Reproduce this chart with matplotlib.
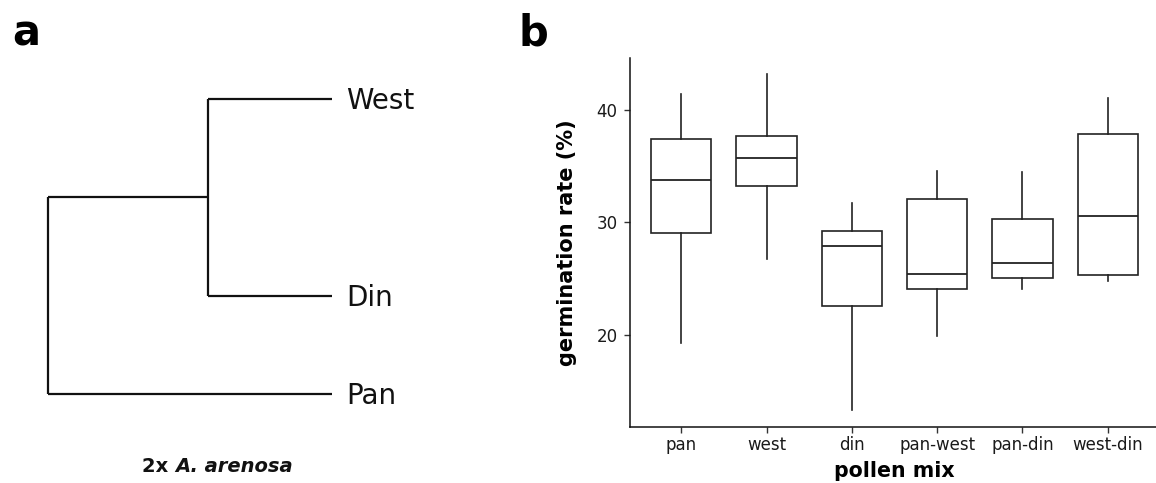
import matplotlib
matplotlib.use("Agg")
import matplotlib.pyplot as plt
from matplotlib.text import Annotation

# ---------------- data ----------------
# panel a: simple cladogram
leaves = ["West", "Din", "Pan"]
leaf_y = [3, 1, 0]            # vertical order of tips
inner_node_depth = 0.565      # depth of the (West, Din) node
root_depth = 0.0
tip_depth = 1.0

# panel b: box plot statistics
categories = ["pan", "west", "din", "pan-west", "pan-din", "west-din"]
whisker_low = [19.3, 26.8, 13.3, 19.9, 24.1, 24.8]
q1 = [29.1, 33.2, 22.6, 24.1, 25.1, 25.3]
median = [33.8, 35.7, 27.9, 25.4, 26.4, 30.6]
q3 = [37.4, 37.7, 29.2, 32.1, 30.3, 37.9]
whisker_high = [41.4, 43.2, 31.7, 34.6, 34.5, 41.1]
y_ticks = [20, 30, 40]

W, H = 1156, 483
fig = plt.figure(figsize=(W / 100, H / 100), dpi=100)
plt.rcParams["font.family"] = ["DejaVu Sans"]

def px(x0, y0, x1, y1):
    """figure-fraction rect from pixel box (top-left origin)"""
    return [x0 / W, 1 - y1 / H, (x1 - x0) / W, (y1 - y0) / H]

# ---------------- panel a ----------------
axa = fig.add_axes(px(47.7, 99, 331.7, 394.3))
axa.set_xlim(0, 1)
axa.set_ylim(0, 3)
axa.axis("off")
lw_tree = 1.6
col_tree = "#111111"
kw = dict(color=col_tree, lw=lw_tree, clip_on=False, solid_capstyle="butt")
y_w, y_d, y_p = leaf_y
inner_mid = (y_w + y_d) / 2
# inner clade
axa.plot([inner_node_depth, inner_node_depth], [y_d, y_w], **kw)
axa.plot([inner_node_depth, tip_depth], [y_w, y_w], **kw)
axa.plot([inner_node_depth, tip_depth], [y_d, y_d], **kw)
# root
axa.plot([root_depth, root_depth], [y_p, inner_mid], **kw)
axa.plot([root_depth, inner_node_depth], [inner_mid, inner_mid], **kw)
axa.plot([root_depth, tip_depth], [y_p, y_p], **kw)
for name, yy in zip(leaves, leaf_y):
    axa.annotate(name, xy=(tip_depth, yy), xytext=(10.5, -7.3),
                 textcoords="offset points", ha="left", va="baseline",
                 fontsize=20, color="#111111", annotation_clip=False)

t1 = fig.text(142 / W, 1 - 472 / H, "2x ", fontsize=14, fontweight="bold",
              ha="left", va="baseline", color="#111111")
a2 = Annotation("A. arenosa", xy=(1, 0), xycoords=t1, xytext=(0, 0),
                textcoords="offset points", ha="left", va="bottom",
                fontsize=14, fontweight="bold", fontstyle="italic",
                color="#111111")
fig.add_artist(a2)

fig.text(12 / W, 1 - 45 / H, "a", fontsize=30, fontweight="bold",
         ha="left", va="baseline")
fig.text(519 / W, 1 - 45 / H, "b", fontsize=30, fontweight="bold",
         ha="left", va="baseline")

# ---------------- panel b ----------------
axb = fig.add_axes(px(630, 58, 1159, 426.6))
stats = []
for i, c in enumerate(categories):
    stats.append(dict(label=c, whislo=whisker_low[i], q1=q1[i], med=median[i],
                      q3=q3[i], whishi=whisker_high[i], fliers=[]))
positions = list(range(1, len(categories) + 1))
lc = "#222222"
axb.bxp(stats, positions=positions, widths=0.71, showcaps=False,
        showfliers=False, patch_artist=True,
        boxprops=dict(facecolor="white", edgecolor=lc, linewidth=1.2),
        medianprops=dict(color=lc, linewidth=1.3),
        whiskerprops=dict(color=lc, linewidth=1.2))
axb.set_xlim(0.4, 6.6)
axb.set_ylim(11.86, 44.62)
axb.set_xticks(positions)
axb.set_xticklabels(categories)
axb.set_yticks(y_ticks)
for s in ["top", "right"]:
    axb.spines[s].set_visible(False)
for s in ["left", "bottom"]:
    axb.spines[s].set_linewidth(1.1)
    axb.spines[s].set_color("#111111")
axb.tick_params(axis="both", length=4, width=1.0, color="#333333",
                labelsize=12, labelcolor="#1a1a1a")
axb.tick_params(axis="y", pad=5)
axb.tick_params(axis="x", pad=3)
axb.set_xlabel("pollen mix", fontsize=14.8, fontweight="bold", labelpad=5)
axb.set_ylabel("germination rate (%)", fontsize=15, fontweight="bold",
               labelpad=14)

fig.savefig("out.png", dpi=100)
